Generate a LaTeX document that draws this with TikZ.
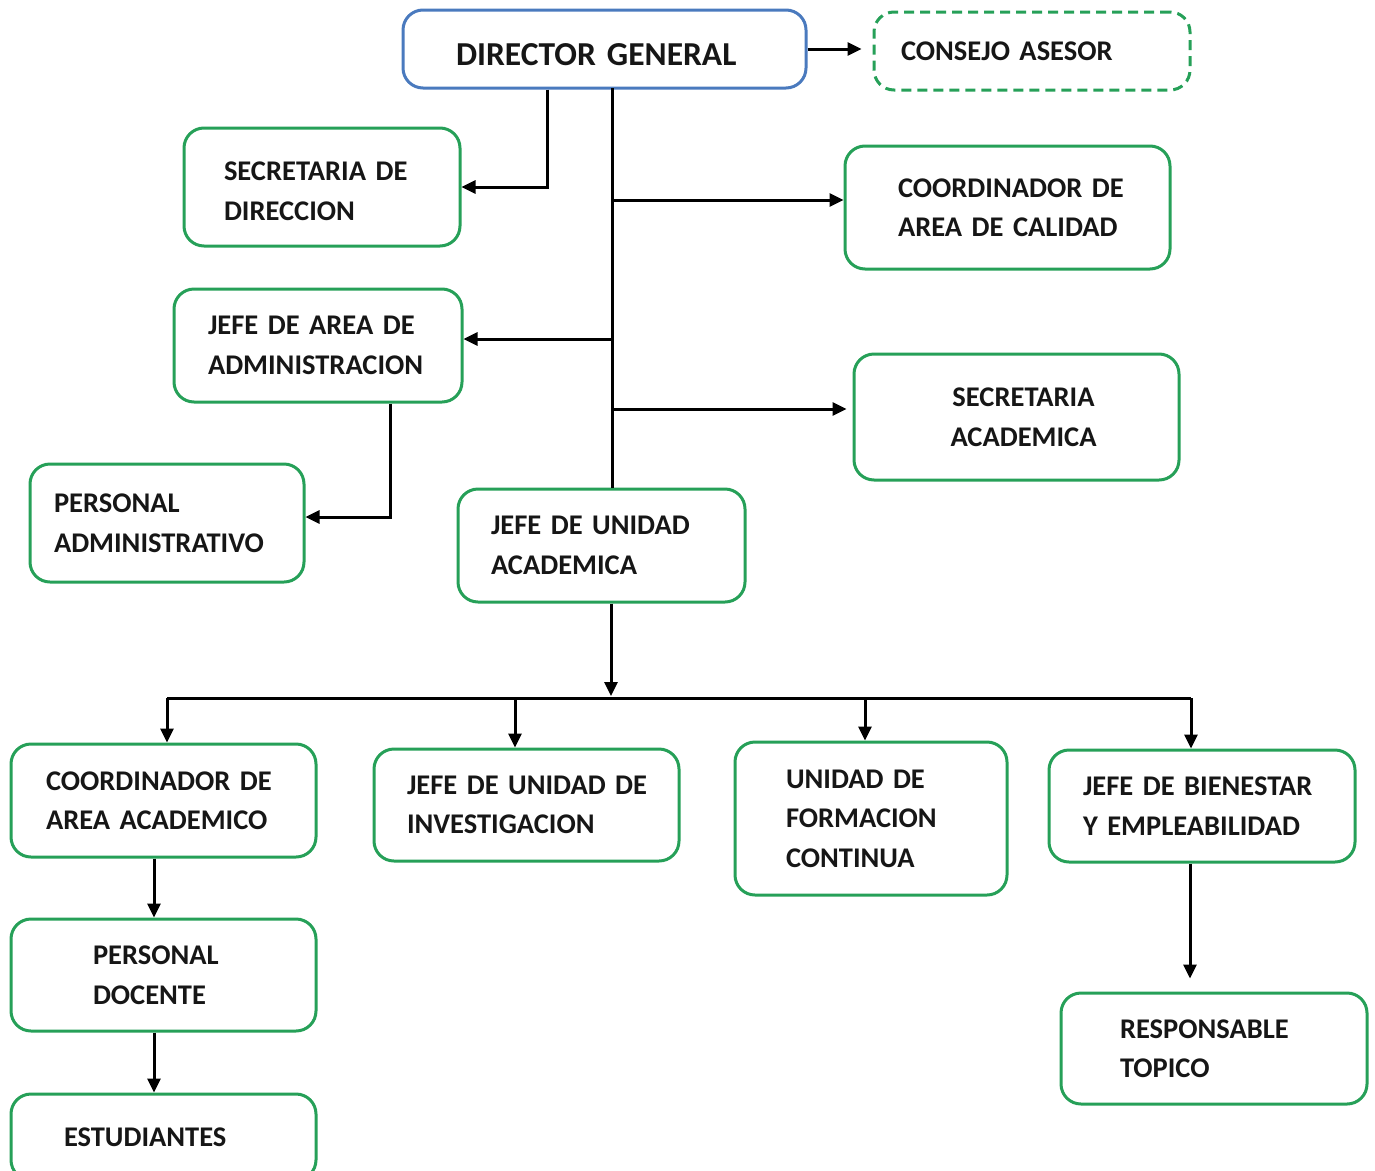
\documentclass[tikz,border=0pt]{standalone}
\usepackage{fontspec}
\setmainfont{Carlito}
\usetikzlibrary{arrows.meta}
\definecolor{boxgreen}{RGB}{38,160,88}
\definecolor{boxblue}{RGB}{74,122,190}
\definecolor{txt}{RGB}{22,22,22}
\newcommand\orgbox[8]{%
  \pgfmathsetmacro\orgtw{#5-#3-2*#7}%
  \node[#1, minimum width={#5-#3}, minimum height={#6-#4}, inner xsep=#7pt, text width=\orgtw pt]
    (#2) at ({(#3+#5)/2},{(#4+#6)/2}) {#8};}
\newcommand\orgln[1]{\mbox{#1}}
\newcommand\orglnc[1]{\mbox{\hspace*{14pt}#1}}
\newcommand\orgdown[2]{\raisebox{-#1}[\height][\depth]{\mbox{#2}}}
\begin{document}
\begin{tikzpicture}[x=1pt,y=-1pt,
  box/.style={draw=boxgreen, line width=3pt, rounded corners=20pt, inner ysep=0pt,
    align=left, text=txt, font=\fontsize{28.5}{39.5}\selectfont\bfseries},
  conn/.style={line width=3pt, draw=black},
  arr/.style={conn, -{Triangle[length=14pt,width=13pt]}}]
\useasboundingbox (0,0) rectangle (1375,1170);
\clip (0,0) rectangle (1375,1170);
% boxes
\orgbox{box, draw=boxblue, font=\fontsize{33.5}{40}\selectfont\bfseries}{dir}{403}{10}{806}{88}{53}{\orgdown{6pt}{DIRECTOR GENERAL}}
\orgbox{box, dashed, dash pattern=on 10pt off 6pt}{cons}{874}{12}{1190}{90}{27}{\orgln{CONSEJO ASESOR}}
\orgbox{box}{sd}{184}{128}{460}{246}{40}{\orgdown{4pt}{SECRETARIA DE}\\\orgdown{4pt}{DIRECCION}}
\orgbox{box}{cal}{845}{146}{1170}{269}{53}{\orgln{COORDINADOR DE}\\\orgln{AREA DE CALIDAD}}
\orgbox{box}{jaa}{174}{289}{462}{402}{34}{\orgln{JEFE DE AREA DE}\\\orgln{ADMINISTRACION}}
\orgbox{box, align=center}{sa}{854}{354}{1179}{480}{20}{\orglnc{SECRETARIA}\\\orglnc{ACADEMICA}}
\orgbox{box}{pa}{30}{464}{304}{582}{24}{\orgln{PERSONAL}\\\orgln{ADMINISTRATIVO}}
\orgbox{box}{jua}{458}{489}{745}{602}{33}{\orgln{JEFE DE UNIDAD}\\\orgln{ACADEMICA}}
\orgbox{box}{caa}{11}{744}{316}{857}{35}{\orgln{COORDINADOR DE}\\\orgln{AREA ACADEMICO}}
\orgbox{box}{jui}{374}{749}{679}{861}{33}{\orgln{JEFE DE UNIDAD DE}\\\orgln{INVESTIGACION}}
\orgbox{box}{ufc}{735}{742}{1007}{895}{51}{\orgln{UNIDAD DE}\\\orgln{FORMACION}\\\orgln{CONTINUA}}
\orgbox{box}{jbe}{1049}{750}{1355}{862}{34}{\orgln{JEFE DE BIENESTAR}\\\orgln{Y EMPLEABILIDAD}}
\orgbox{box}{pd}{11}{919}{316}{1031}{82}{\orgln{PERSONAL}\\\orgln{DOCENTE}}
\orgbox{box}{rt}{1061}{993}{1367}{1104}{59}{\orgln{RESPONSABLE}\\\orgln{TOPICO}}
\orgbox{box}{est}{11}{1094}{316}{1180}{53}{\orgln{ESTUDIANTES}}
% helper coordinates
\coordinate (sdx) at (547,0);
\coordinate (trunk) at (612,88);
\coordinate (b1) at (612,200);
\coordinate (b2) at (612,339);
\coordinate (b3) at (612,409);
\coordinate (c1) at (390,517);
\coordinate (bus) at (611,697);
\coordinate (bl) at (167,698);
\coordinate (bm1) at (515,698);
\coordinate (bm2) at (865,698);
\coordinate (br) at (1191,698);
\coordinate (d1) at (154,0);
\coordinate (e1) at (1190,0);
% connectors
\draw[arr, shorten >=11pt] (dir.east) -- (dir.east -| cons.west);
\draw[arr] (sdx |- dir.south) |- (sd.east);
\draw[conn] (trunk) -- (trunk |- jua.north);
\draw[arr] (b1) -- (b1 -| cal.west);
\draw[arr] (b2) -- (b2 -| jaa.east);
\draw[arr, shorten >=6pt] (b3) -- (b3 -| sa.west);
\draw[arr] (c1 |- jaa.south) -- (c1) -- (c1 -| pa.east);
\draw[arr, shorten >=1pt] (bus |- jua.south) -- (bus);
\draw[conn] (bl) -- (br);
\draw[arr] (bl) -- (bl |- caa.north);
\draw[arr] (bm1) -- (bm1 |- jui.north);
\draw[arr] (bm2) -- (bm2 |- ufc.north);
\draw[arr] (br) -- (br |- jbe.north);
\draw[arr] (d1 |- caa.south) -- (d1 |- pd.north);
\draw[arr] (d1 |- pd.south) -- (d1 |- est.north);
\draw[arr, shorten >=13pt] (e1 |- jbe.south) -- (e1 |- rt.north);
\end{tikzpicture}
\end{document}
